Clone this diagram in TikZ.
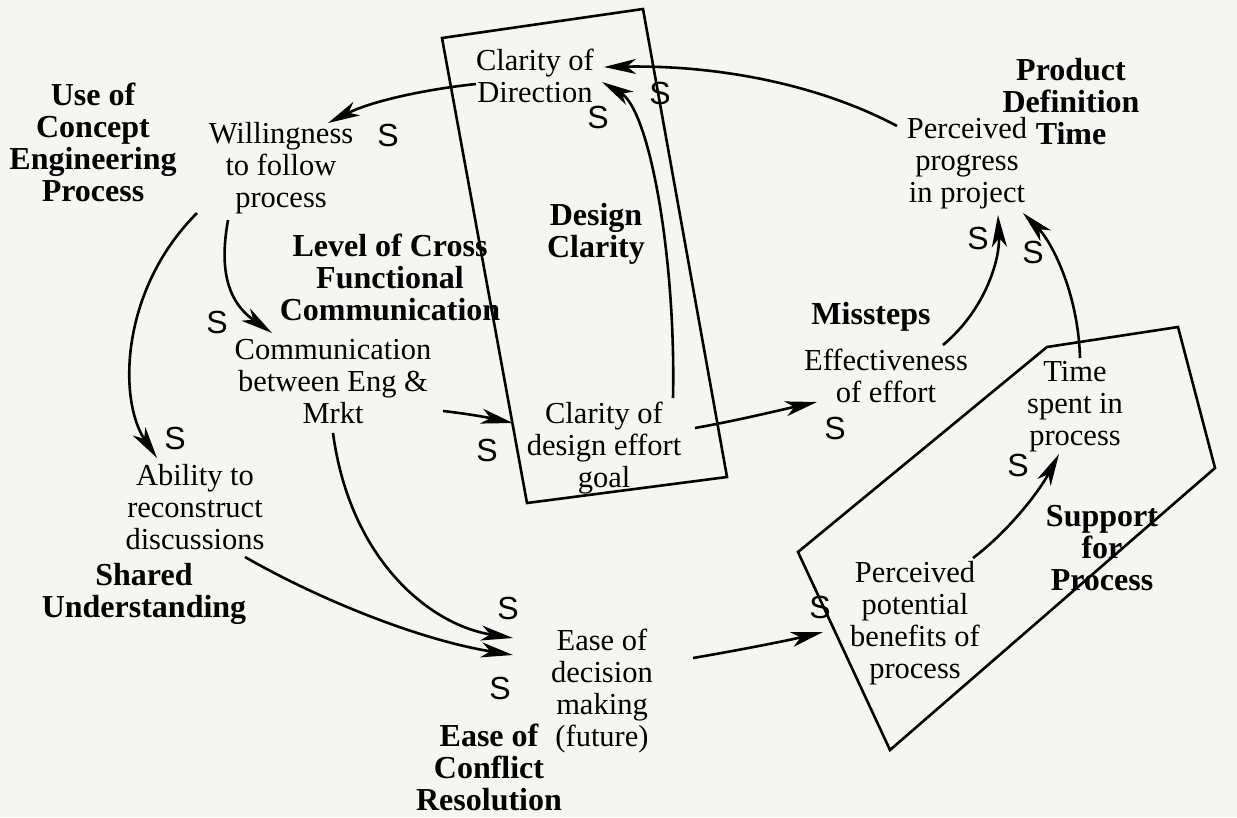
\documentclass[tikz,border=0pt]{standalone}
\usepackage{fontspec}
\setmainfont{Liberation Serif}
\newfontfamily\sgnfont{Liberation Sans}
\usetikzlibrary{arrows.meta}
\definecolor{bg}{RGB}{245,245,242}
\begin{document}
\begin{tikzpicture}[x=1pt,y=-1pt,
  txt/.style={align=center,inner sep=0pt,font=\fontsize{30.5}{32}\selectfont},
  lbl/.style={align=center,inner sep=0pt,font=\fontsize{32}{32}\selectfont\bfseries},
  sgn/.style={inner sep=0pt,font=\sgnfont\fontsize{32}{32}\selectfont},
  frame/.style={line width=2.6pt,line join=miter},
  link/.style={line width=2.6pt,-{Stealth[length=32pt,width=15pt,inset=9pt]}}]
\useasboundingbox (0,0) rectangle (1237,817);
\fill[bg] (0,0) rectangle (1237,817);
% frames
\draw[frame] (442,38) -- (643,9) -- (727,477) -- (527,503) -- cycle;
\draw[frame] (798,552) -- (1047,347) -- (1178,327) -- (1215,468) -- (890,750) -- cycle;
% variables
\node[txt] (cod) at (535,76) {Clarity of\\Direction};
\node[txt] (will) at (281,168) {Willingness\\to follow\\process};
\node[lbl] (ucep) at (93,142) {Use of\\Concept\\Engineering\\Process};
\node[lbl] (lcfc) at (390,277) {Level of Cross\\Functional\\Communication};
\node[lbl] (dc) at (596,234) {Design\\Clarity};
\node[txt] (comm) at (333,382) {Communication\\between Eng \&\\Mrkt};
\node[txt] (ccd) at (604,448) {Clarity of\\design effort\\goal};
\node[txt] (abil) at (195,507) {Ability to\\reconstruct\\discussions};
\node[lbl] (su) at (144,594) {Shared\\Understanding};
\node[txt] (ease) at (602,691) {Ease of\\decision\\making\\(future)};
\node[lbl] (ecr) at (489,767) {Ease of\\Conflict\\Resolution};
\node[lbl] (mis) at (871,317) {Missteps};
\node[txt] (eff) at (886,376) {Effectiveness\\of effort};
\node[lbl] (pdt) at (1071,102) {Product\\Definition\\Time};
\node[txt] (prog) at (967,163) {Perceived\\progress\\in project};
\node[txt] (time) at (1075,407) {Time\\spent in\\process};
\node[lbl] (sfp) at (1102,548) {Support\\for\\Process};
\node[txt] (ppb) at (915,623) {Perceived\\potential\\benefits of\\process};
% signs
\node[sgn] (s1) at (388,135) {S};
\node[sgn] (s2) at (598,117) {S};
\node[sgn] (s3) at (660,93) {S};
\node[sgn] (s4) at (217,322) {S};
\node[sgn] (s5) at (175,438) {S};
\node[sgn] (s6) at (487,450) {S};
\node[sgn] (s7) at (508,608) {S};
\node[sgn] (s8) at (500,688) {S};
\node[sgn] (s9) at (835,428) {S};
\node[sgn] (s10) at (978,238) {S};
\node[sgn] (s11) at (1033,252) {S};
\node[sgn] (s12) at (1018,465) {S};
\node[sgn] (s13) at (820,607) {S};
% connector ends
\coordinate (codOut) at (476,84);   \coordinate (willIn) at (328,123);
\coordinate (ucepOut) at (197,213); \coordinate (abilIn) at (157,458);
\coordinate (willOut) at (228,220); \coordinate (commIn) at (272,333);
\coordinate (commOut) at (443,411); \coordinate (ccdIn) at (513,423);
\coordinate (ccdUp) at (673,398);   \coordinate (codIn1) at (602,82);
\coordinate (progOut) at (897,126); \coordinate (codIn2) at (604,67);
\coordinate (effOut) at (943,345);  \coordinate (progIn1) at (998,215);
\coordinate (timeOut) at (1080,358);\coordinate (progIn2) at (1023,213);
\coordinate (ccdOut) at (695,428);  \coordinate (effIn) at (817,402);
\coordinate (easeOut) at (693,658); \coordinate (ppbIn) at (823,632);
\coordinate (ppbOut) at (973,558);  \coordinate (timeIn) at (1059,454);
\coordinate (commDown) at (333,433);\coordinate (easeIn1) at (513,638);
\coordinate (abilOut) at (245,557); \coordinate (easeIn2) at (513,655);
% connectors
\draw[link] (codOut) .. controls (420,90) and (370,102) .. (willIn);
\draw[link] (ucepOut) .. controls (120,290) and (118,400) .. (abilIn);
\draw[link] (willOut) .. controls (220,265) and (225,300) .. (commIn);
\draw[link] (commOut) .. controls (470,414) and (490,418) .. (ccdIn);
\draw[link] (ccdUp) .. controls (676,260) and (650,110) .. (codIn1);
\draw[link] (progOut) .. controls (820,85) and (720,65) .. (codIn2);
\draw[link] (effOut) .. controls (985,310) and (1000,260) .. (progIn1);
\draw[link] (timeOut) .. controls (1078,290) and (1050,240) .. (progIn2);
\draw[link] (ccdOut) .. controls (740,420) and (780,410) .. (effIn);
\draw[link] (easeOut) .. controls (740,650) and (790,640) .. (ppbIn);
\draw[link] (ppbOut) .. controls (1010,530) and (1040,490) .. (timeIn);
\draw[link] (commDown) .. controls (350,560) and (430,625) .. (easeIn1);
\draw[link] (abilOut) .. controls (320,600) and (420,640) .. (easeIn2);
\end{tikzpicture}
\end{document}
